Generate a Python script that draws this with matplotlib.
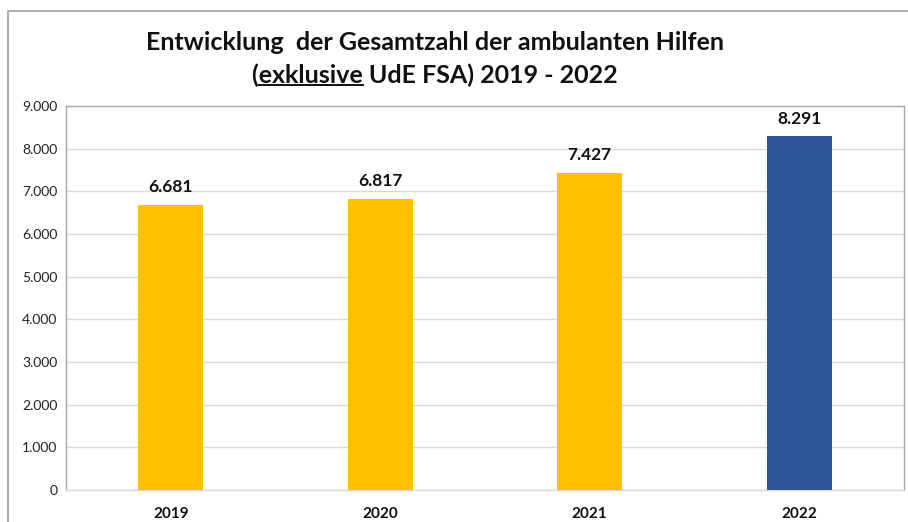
import matplotlib
matplotlib.use("Agg")
import matplotlib.pyplot as plt
from matplotlib.patches import Rectangle
from matplotlib.lines import Line2D

years = ["2019", "2020", "2021", "2022"]
values = [6681, 6817, 7427, 8291]
bar_colors = ["#FFC000", "#FFC000", "#FFC000", "#2F5597"]
yticks = [0, 1000, 2000, 3000, 4000, 5000, 6000, 7000, 8000, 9000]

def de_fmt(v):
    return f"{v:,}".replace(",", ".")

plt.rcParams['font.family'] = ['Lato', 'DejaVu Sans']

fig = plt.figure(figsize=(9.08, 5.22), dpi=100)
ax = fig.add_axes([66/908, 1-490/522, (904-66)/908, (490-106)/522])

x = range(len(years))
bars = ax.bar(x, values, width=0.31, color=bar_colors, zorder=3)
ax.set_xlim(-0.5, len(years)-0.5)
ax.set_ylim(0, 9000)
ax.set_yticks(yticks)
ax.set_yticklabels([de_fmt(v) for v in yticks], fontsize=10, color="#222222")
ax.set_xticks(list(x))
ax.set_xticklabels(years, fontsize=11, fontweight="bold", color="#111111")
ax.tick_params(axis="both", length=0)
ax.tick_params(axis="x", pad=12)
ax.tick_params(axis="y", pad=6)
ax.grid(axis="y", color="#D9D9D9", linewidth=1, zorder=0)
for s in ax.spines.values():
    s.set_color("#A6A6A6")
    s.set_linewidth(1)
ax.spines["bottom"].set_color("#D9D9D9")

for xi, v in zip(x, values):
    ax.annotate(de_fmt(v), (xi, v), xytext=(0, 7), textcoords="offset points",
                ha="center", va="bottom", fontsize=12.5, fontweight="bold", color="#111111")

# outer chart border
fig.patches.append(Rectangle((8/908, -0.1), 1.2, 1-11/522+0.1, transform=fig.transFigure,
                             fill=False, edgecolor="#A0A0A0", linewidth=1.2))

# title
TFS = 18
cx = 435/908
fig.text(cx, 1-42/522, "Entwicklung  der Gesamtzahl der ambulanten Hilfen", ha="center", va="center",
         fontsize=TFS, fontweight="bold", color="#111111")
line2 = "(exklusive UdE FSA) 2019 - 2022"
t2 = fig.text(cx, 1-75/522, line2, ha="center", va="center",
              fontsize=TFS, fontweight="bold", color="#111111")
fig.canvas.draw()
r = fig.canvas.get_renderer()
bb = t2.get_window_extent(r)
def width_of(s):
    tt = fig.text(0, 0, s, fontsize=TFS, fontweight="bold")
    w = tt.get_window_extent(r).width
    tt.remove()
    return w
w_open = width_of("(")
w_ex = width_of("(exklusive")
x0 = (bb.x0 + w_open) / fig.bbox.width
x1 = (bb.x0 + w_ex) / fig.bbox.width
yu = (bb.y0 + 2) / fig.bbox.height
fig.lines.append(Line2D([x0, x1], [yu, yu], transform=fig.transFigure, color="#111111", linewidth=1.4))

fig.savefig("out.png", dpi=100)
